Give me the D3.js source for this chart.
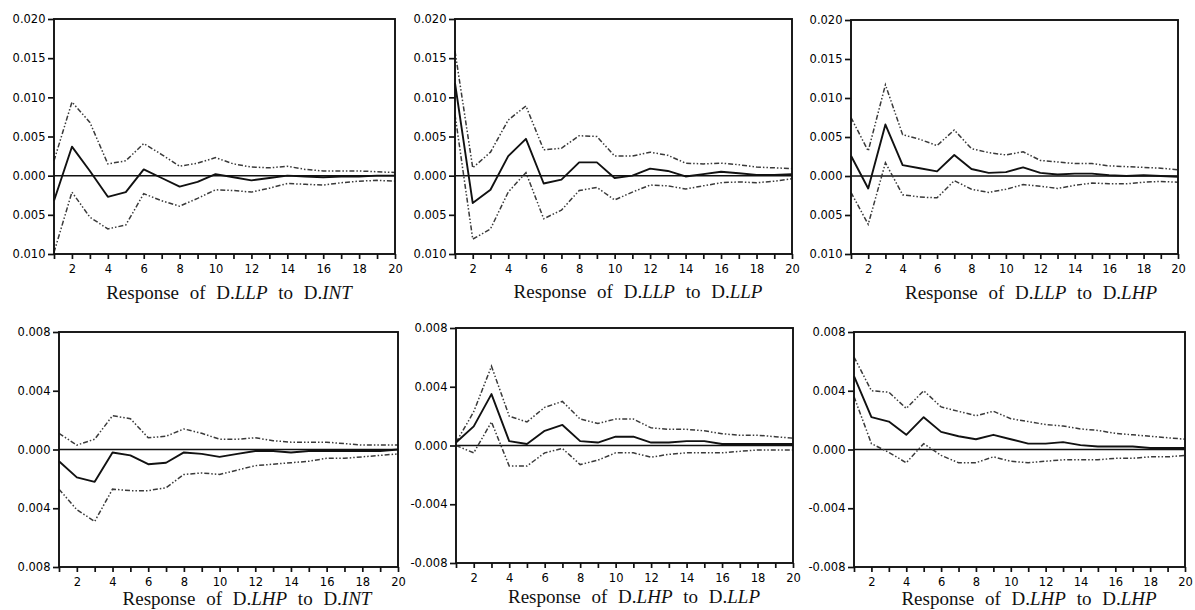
<!DOCTYPE html>
<html>
<head>
<meta charset="utf-8">
<script src="https://cdn.jsdelivr.net/npm/d3@7"></script>
<style>
  html, body { margin: 0; padding: 0; background: #fff; }
  svg { display: block; }
  .tick text { font-family: "DejaVu Sans", sans-serif; font-size: 11.5px; fill: #000; }
  .title { font-family: "Liberation Serif", "Times New Roman", serif; font-size: 19px; fill: #111; word-spacing: 6px; }
</style>
</head>
<body>
<svg id="chart" width="1195" height="610"></svg>
<script>
// ---------- data ----------
const periods = [1,2,3,4,5,6,7,8,9,10,11,12,13,14,15,16,17,18,19,20];
const xTickLabels = ["","2","","4","","6","","8","","10","","12","","14","","16","","18","","20"];

const yTicksTop = [0.020, 0.015, 0.010, 0.005, 0.000, -0.005, -0.010];
const yTickLabelsTop = ["0.020", "0.015", "0.010", "0.005", "0.000", "0.005", "0.010"];
const yTicksBottom = [0.008, 0.004, 0.000, -0.004, -0.008];
const yTickLabelsBottomLeft = ["0.008", "0.004", "0.000", "0.004", "0.008"];
const yTickLabelsBottom = ["0.008", "0.004", "0.000", "-0.004", "-0.008"];

// Response of D.LLP to D.INT
const respLLP_INT  = [-0.0032, 0.0037, 0.0006, -0.0027, -0.0021, 0.0008, -0.0003, -0.0014, -0.0008, 0.0002, -0.0002, -0.0006, -0.0003, 0.0000, -0.0001, -0.0002, -0.0001, -0.0001, 0.0000, 0.0000];
const upperLLP_INT = [0.0019, 0.0094, 0.0068, 0.0015, 0.0019, 0.0041, 0.0027, 0.0012, 0.0016, 0.0023, 0.0015, 0.0011, 0.0010, 0.0012, 0.0008, 0.0006, 0.0006, 0.0006, 0.0005, 0.0004];
const lowerLLP_INT = [-0.0098, -0.0021, -0.0053, -0.0068, -0.0063, -0.0023, -0.0032, -0.0039, -0.0029, -0.0018, -0.0019, -0.0021, -0.0016, -0.0010, -0.0011, -0.0012, -0.0009, -0.0007, -0.0006, -0.0007];

// Response of D.LLP to D.LLP
const respLLP_LLP  = [0.0118, -0.0035, -0.0018, 0.0025, 0.0047, -0.0010, -0.0005, 0.0017, 0.0017, -0.0003, 0.0000, 0.0009, 0.0006, -0.0001, 0.0002, 0.0005, 0.0003, 0.0001, 0.0001, 0.0002];
const upperLLP_LLP = [0.0159, 0.0010, 0.0030, 0.0071, 0.0089, 0.0033, 0.0035, 0.0051, 0.0050, 0.0025, 0.0025, 0.0030, 0.0026, 0.0016, 0.0015, 0.0016, 0.0014, 0.0011, 0.0010, 0.0009];
const lowerLLP_LLP = [0.0078, -0.0081, -0.0068, -0.0021, 0.0004, -0.0055, -0.0044, -0.0019, -0.0015, -0.0031, -0.0021, -0.0012, -0.0013, -0.0017, -0.0013, -0.0009, -0.0008, -0.0009, -0.0007, -0.0004];

// Response of D.LLP to D.LHP
const respLLP_LHP  = [0.0026, -0.0016, 0.0066, 0.0014, 0.0010, 0.0006, 0.0027, 0.0009, 0.0004, 0.0005, 0.0011, 0.0004, 0.0002, 0.0003, 0.0003, 0.0001, 0.0000, 0.0001, 0.0000, -0.0001];
const upperLLP_LHP = [0.0075, 0.0032, 0.0117, 0.0053, 0.0047, 0.0039, 0.0059, 0.0035, 0.0030, 0.0027, 0.0031, 0.0020, 0.0018, 0.0016, 0.0016, 0.0013, 0.0012, 0.0011, 0.0010, 0.0008];
const lowerLLP_LHP = [-0.0021, -0.0062, 0.0017, -0.0024, -0.0027, -0.0028, -0.0006, -0.0017, -0.0021, -0.0017, -0.0011, -0.0013, -0.0016, -0.0012, -0.0009, -0.0010, -0.0010, -0.0008, -0.0007, -0.0008];

// Response of D.LHP to D.INT
const respLHP_INT  = [-0.0008, -0.0019, -0.0022, -0.0002, -0.0004, -0.0010, -0.0009, -0.0002, -0.0003, -0.0005, -0.0003, -0.0001, -0.0001, -0.0002, -0.0001, -0.0001, -0.0001, -0.0001, -0.0001, 0.0000];
const upperLHP_INT = [0.0011, 0.0003, 0.0007, 0.0023, 0.0021, 0.0008, 0.0009, 0.0014, 0.0011, 0.0007, 0.0007, 0.0008, 0.0006, 0.0005, 0.0005, 0.0005, 0.0004, 0.0003, 0.0003, 0.0003];
const lowerLHP_INT = [-0.0027, -0.0041, -0.0049, -0.0027, -0.0028, -0.0028, -0.0026, -0.0017, -0.0016, -0.0017, -0.0014, -0.0011, -0.0010, -0.0009, -0.0008, -0.0006, -0.0006, -0.0005, -0.0004, -0.0003];

// Response of D.LHP to D.LLP
const respLHP_LLP  = [0.0002, 0.0013, 0.0035, 0.0003, 0.0001, 0.0010, 0.0014, 0.0003, 0.0002, 0.0006, 0.0006, 0.0002, 0.0002, 0.0003, 0.0003, 0.0001, 0.0001, 0.0001, 0.0001, 0.0001];
const upperLHP_LLP = [0.0002, 0.0023, 0.0054, 0.0020, 0.0016, 0.0026, 0.0030, 0.0018, 0.0015, 0.0018, 0.0018, 0.0012, 0.0011, 0.0011, 0.0010, 0.0008, 0.0007, 0.0007, 0.0006, 0.0005];
const lowerLHP_LLP = [0.0000, -0.0005, 0.0016, -0.0014, -0.0014, -0.0005, -0.0002, -0.0013, -0.0010, -0.0005, -0.0005, -0.0008, -0.0006, -0.0005, -0.0005, -0.0005, -0.0004, -0.0003, -0.0003, -0.0003];

// Response of D.LHP to D.LHP
const respLHP_LHP  = [0.0050, 0.0022, 0.0019, 0.0010, 0.0022, 0.0012, 0.0009, 0.0007, 0.0010, 0.0007, 0.0004, 0.0004, 0.0005, 0.0003, 0.0002, 0.0002, 0.0002, 0.0001, 0.0001, 0.0001];
const upperLHP_LHP = [0.0063, 0.0040, 0.0039, 0.0028, 0.0040, 0.0029, 0.0026, 0.0023, 0.0026, 0.0021, 0.0019, 0.0017, 0.0016, 0.0014, 0.0013, 0.0011, 0.0010, 0.0009, 0.0008, 0.0007];
const lowerLHP_LHP = [0.0036, 0.0004, -0.0002, -0.0009, 0.0004, -0.0004, -0.0009, -0.0009, -0.0005, -0.0008, -0.0009, -0.0008, -0.0007, -0.0007, -0.0007, -0.0006, -0.0006, -0.0005, -0.0005, -0.0004];

// ---------- layout ----------
const panels = [
  { box: [54, 19, 395, 254],  domain: [-0.010, 0.020], ticks: yTicksTop, labels: yTickLabelsTop,
    resp: respLLP_INT, upper: upperLLP_INT, lower: lowerLLP_INT,
    title: ["LLP", "INT"], tx: 229, ty: 299 },
  { box: [455, 19, 792, 254], domain: [-0.010, 0.020], ticks: yTicksTop, labels: yTickLabelsTop,
    resp: respLLP_LLP, upper: upperLLP_LLP, lower: lowerLLP_LLP,
    title: ["LLP", "LLP"], tx: 638, ty: 298 },
  { box: [851, 20, 1178, 254], domain: [-0.010, 0.020], ticks: yTicksTop, labels: yTickLabelsTop,
    resp: respLLP_LHP, upper: upperLLP_LHP, lower: lowerLLP_LHP,
    title: ["LLP", "LHP"], tx: 1031, ty: 299 },
  { box: [59, 332, 398, 567], domain: [-0.008, 0.008], ticks: yTicksBottom, labels: yTickLabelsBottomLeft,
    resp: respLHP_INT, upper: upperLHP_INT, lower: lowerLHP_INT,
    title: ["LHP", "INT"], tx: 247, ty: 605 },
  { box: [456, 328, 793, 563], domain: [-0.008, 0.008], ticks: yTicksBottom, labels: yTickLabelsBottom,
    resp: respLHP_LLP, upper: upperLHP_LLP, lower: lowerLHP_LLP,
    title: ["LHP", "LLP"], tx: 634, ty: 603 },
  { box: [854, 332, 1185, 567], domain: [-0.008, 0.008], ticks: yTicksBottom, labels: yTickLabelsBottom,
    resp: respLHP_LHP, upper: upperLHP_LHP, lower: lowerLHP_LHP,
    title: ["LHP", "LHP"], tx: 1029, ty: 605 }
];

const svg = d3.select("#chart");

panels.forEach(p => {
  const [x0, y0, x1, y1] = p.box;
  const x = d3.scaleLinear().domain([1, 20]).range([x0, x1]);
  const y = d3.scaleLinear().domain(p.domain).range([y1, y0]);
  const g = svg.append("g");

  // y axis
  const ya = g.append("g").attr("transform", `translate(${x0},0)`)
    .call(d3.axisLeft(y).tickValues(p.ticks).tickFormat((d, i) => p.labels[i]).tickSize(6).tickPadding(2.5));
  ya.select(".domain").remove();
  ya.selectAll(".tick line").attr("stroke", "#111").attr("stroke-width", 1.7);

  // x axis
  const xa = g.append("g").attr("transform", `translate(0,${y1})`)
    .call(d3.axisBottom(x).tickValues(periods).tickFormat((d, i) => xTickLabels[i]).tickSize(5).tickPadding(6));
  xa.select(".domain").remove();
  xa.selectAll(".tick line").attr("stroke", "#111").attr("stroke-width", 1.7);

  // zero line
  g.append("line")
    .attr("x1", x0).attr("x2", x1).attr("y1", y(0)).attr("y2", y(0))
    .attr("stroke", "#111").attr("stroke-width", 1.5);

  const line = d3.line().x((d, i) => x(periods[i])).y(d => y(d));

  // confidence bands
  [p.upper, p.lower].forEach(arr => {
    g.append("path").datum(arr)
      .attr("d", line)
      .attr("fill", "none")
      .attr("stroke", "#3a3a3a")
      .attr("stroke-width", 1.5)
      .attr("stroke-dasharray", "5,2,1.5,2,1.5,2");
  });

  // response
  g.append("path").datum(p.resp)
    .attr("d", line)
    .attr("fill", "none")
    .attr("stroke", "#111")
    .attr("stroke-width", 1.9)
    .attr("stroke-linejoin", "round");

  // box
  g.append("rect")
    .attr("x", x0).attr("y", y0).attr("width", x1 - x0).attr("height", y1 - y0)
    .attr("fill", "none").attr("stroke", "#111").attr("stroke-width", 1.9);

  // title
  const t = svg.append("text").attr("class", "title")
    .attr("x", p.tx).attr("y", p.ty).attr("text-anchor", "middle");
  t.append("tspan").text("Response of D.");
  t.append("tspan").attr("font-style", "italic").text(p.title[0]);
  t.append("tspan").text(" to D.");
  t.append("tspan").attr("font-style", "italic").text(p.title[1]);
});
</script>
</body>
</html>
